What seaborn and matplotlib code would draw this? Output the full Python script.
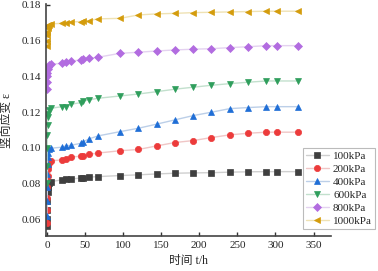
import matplotlib
matplotlib.use("Agg")
from matplotlib import pyplot as plt
import seaborn as sns
import pandas as pd

# time points (h)
t = [0, 0.17, 0.33, 0.5, 1, 1.5, 2, 3, 5, 20, 25, 32, 45, 48, 55, 67, 96,
     120, 144, 168, 192, 216, 240, 264, 288, 302, 330]

s100 = [0.056, 0.060, 0.065, 0.070, 0.075, 0.078, 0.079, 0.0805, 0.0810, 0.0820,
        0.0822, 0.0825, 0.0830, 0.0832, 0.0835, 0.0838, 0.0844, 0.0848, 0.0853,
        0.0857, 0.0859, 0.0860, 0.0863, 0.0865, 0.0866, 0.0866, 0.0866]
s200 = [0.058, 0.065, 0.072, 0.078, 0.084, 0.088, 0.090, 0.0915, 0.0926, 0.0932,
        0.0937, 0.0947, 0.0953, 0.0956, 0.0962, 0.0970, 0.0983, 0.0990, 0.1010,
        0.1029, 0.1040, 0.1057, 0.1072, 0.1081, 0.1087, 0.1087, 0.1087]
s400 = [0.062, 0.070, 0.078, 0.085, 0.091, 0.095, 0.097, 0.0990, 0.0997, 0.1003,
        0.1010, 0.1014, 0.1025, 0.1034, 0.1049, 0.1066, 0.1090, 0.1109, 0.1132,
        0.1156, 0.1180, 0.1199, 0.1219, 0.1225, 0.1230, 0.1230, 0.1230]
s600 = [0.080, 0.090, 0.100, 0.107, 0.113, 0.117, 0.119, 0.1210, 0.1221, 0.1230,
        0.1230, 0.1244, 0.1253, 0.1262, 0.1268, 0.1277, 0.1290, 0.1301, 0.1314,
        0.1328, 0.1339, 0.1350, 0.1359, 0.1367, 0.1374, 0.1374, 0.1374]
s800 = [0.133, 0.137, 0.140, 0.142, 0.144, 0.145, 0.1455, 0.1464, 0.1468, 0.1473,
        0.1479, 0.1486, 0.1492, 0.1498, 0.1501, 0.1507, 0.1529, 0.1535, 0.1542,
        0.1548, 0.1552, 0.1555, 0.1561, 0.1566, 0.1572, 0.1572, 0.1572]
s1000 = [0.157, 0.160, 0.163, 0.165, 0.167, 0.168, 0.1685, 0.1688, 0.1694, 0.1697,
         0.1701, 0.1705, 0.1707, 0.1710, 0.1712, 0.1722, 0.1725, 0.1744, 0.1750,
         0.1753, 0.1757, 0.1759, 0.1761, 0.1763, 0.1765, 0.1765, 0.1765]

labels = ['100kPa', '200kPa', '400kPa', '600kPa', '800kPa', '1000kPa']
series = [s100, s200, s400, s600, s800, s1000]

markers = ['s', 'o', '^', 'v', 'D', '<']
colors = ['#3f3f3f', '#ec3b3b', '#1f6ed6', '#2f9e5c', '#b26ce0', '#d49c0c']
line_colors = ['#cfcfcf', '#f0c6c6', '#bccfe8', '#c2e0cd', '#e4d2f0', '#efe2b4']
msizes = [4, 4.5, 5, 5, 4, 5]

sns.set_style('ticks')
plt.rcParams['font.family'] = ['Liberation Serif', 'Noto Sans CJK SC']

fig = plt.figure(figsize=(3.78, 2.71), dpi=100)
ax = fig.add_axes([0.122, 0.129, 0.754, 0.856])

for i in range(len(series)):
    df = pd.DataFrame({'t': t, 'e': series[i]})
    sns.lineplot(data=df, x='t', y='e', ax=ax, color=line_colors[i], lw=1,
                 marker=markers[i], markersize=msizes[i],
                 markerfacecolor=colors[i], markeredgecolor=colors[i],
                 markeredgewidth=0.5, label=labels[i], sort=False)

ax.set_xlim(-1, 373)
ax.set_ylim(0.0505, 0.1805)
ax.set_xticks([0, 50, 100, 150, 200, 250, 300, 350])
ax.set_yticks([0.06, 0.08, 0.10, 0.12, 0.14, 0.16, 0.18])
ax.set_yticklabels(['0.06', '0.08', '0.10', '0.12', '0.14', '0.16', '0.18'])
ax.tick_params(direction='in', length=3, width=1, labelsize=8, color='#333333')
for sp in ['top', 'right']:
    ax.spines[sp].set_visible(False)
for sp in ['left', 'bottom']:
    ax.spines[sp].set_color('#444444')
    ax.spines[sp].set_linewidth(1.2)

ax.set_xlabel('时间 t/h', fontsize=8.5, labelpad=4)
ax.set_ylabel('竖向应变 ε', fontsize=8.5, labelpad=6)

leg = ax.legend(loc='upper left', bbox_to_anchor=(0.8016, 0.454),
                bbox_transform=fig.transFigure, borderaxespad=0,
                fontsize=8, frameon=True, fancybox=False,
                handlelength=2.0, labelspacing=0.28, borderpad=0.3,
                handletextpad=0.4)
leg.get_frame().set_edgecolor('#aaaaaa')
leg.get_frame().set_linewidth(0.8)

plt.savefig('out.png', dpi=100)
